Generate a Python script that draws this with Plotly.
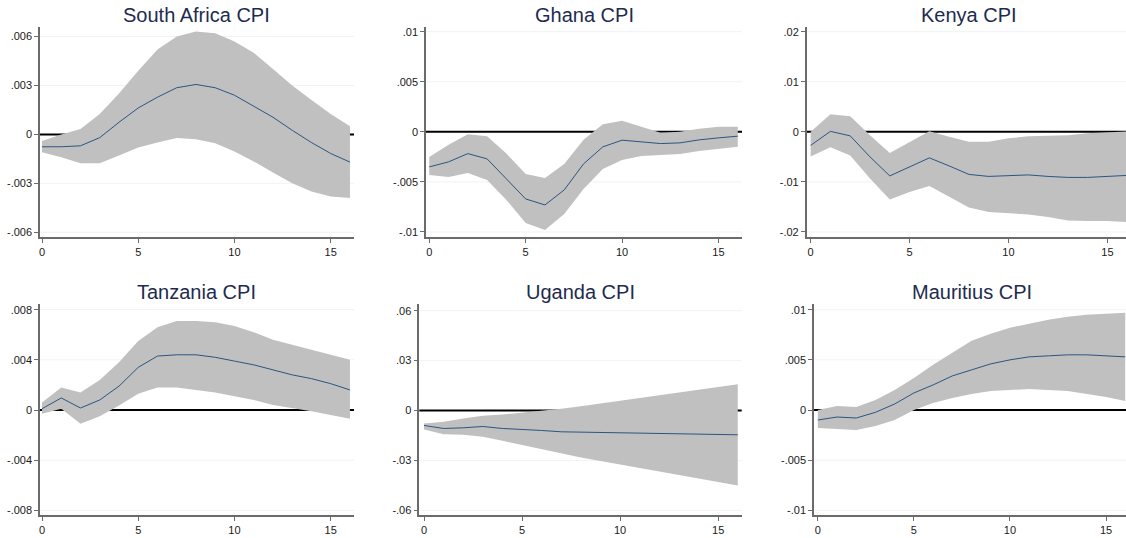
import plotly.graph_objects as go

W, H = 1126, 538
steps = list(range(17))

titles = ["South Africa CPI", "Ghana CPI", "Kenya CPI", "Tanzania CPI", "Uganda CPI", "Mauritius CPI"]

sa_irf = [-0.00076, -0.00076, -0.0007, -0.0002, 0.00074, 0.00162, 0.00228, 0.00286, 0.00306, 0.00286, 0.0024, 0.00175, 0.00105, 0.00025, -0.0005, -0.00117, -0.0017]
sa_hi = [-0.0004, 0.0, 0.00033, 0.00125, 0.0025, 0.0039, 0.0052, 0.006, 0.0063, 0.0062, 0.0057, 0.005, 0.004, 0.003, 0.0021, 0.00125, 0.0005]
sa_lo = [-0.0011, -0.0014, -0.00177, -0.00177, -0.0013, -0.0008, -0.0005, -0.00022, -0.0003, -0.00055, -0.00105, -0.00166, -0.00234, -0.003, -0.0035, -0.0038, -0.0039]

gh_irf = [-0.0035, -0.003, -0.00217, -0.0027, -0.0047, -0.0067, -0.0073, -0.0058, -0.0032, -0.0015, -0.00083, -0.001, -0.00117, -0.0011, -0.0008, -0.0006, -0.00043]
gh_hi = [-0.0025, -0.0013, -0.00023, -0.00043, -0.00217, -0.0042, -0.0046, -0.0032, -0.0008, 0.00077, 0.0011, 0.0005, -0.0001, 0.0, 0.0003, 0.0005, 0.0005]
gh_lo = [-0.0043, -0.0045, -0.0041, -0.0048, -0.0068, -0.0091, -0.0098, -0.0082, -0.0057, -0.0037, -0.0028, -0.0024, -0.0023, -0.0022, -0.0019, -0.0017, -0.0015]

ke_irf = [-0.0027, 0.0001, -0.0008, -0.005, -0.0088, -0.007, -0.0052, -0.0068, -0.0085, -0.0089, -0.0087, -0.0086, -0.0089, -0.0091, -0.0091, -0.0089, -0.0087]
ke_hi = [0.0, 0.0035, 0.0031, -0.0007, -0.0042, -0.002, 0.0001, -0.001, -0.002, -0.002, -0.0013, -0.0009, -0.0008, -0.0007, -0.0003, -0.0001, 0.0001]
ke_lo = [-0.0049, -0.0031, -0.0047, -0.0093, -0.0135, -0.012, -0.0108, -0.013, -0.0151, -0.016, -0.0162, -0.0165, -0.017, -0.0177, -0.0178, -0.0178, -0.018]

tz_irf = [0.0001, 0.00096, 0.00016, 0.0008, 0.0019, 0.0034, 0.0043, 0.0044, 0.0044, 0.0042, 0.0039, 0.0036, 0.0032, 0.0028, 0.0025, 0.0021, 0.0016]
tz_hi = [0.0006, 0.0018, 0.0014, 0.0024, 0.0038, 0.0055, 0.0066, 0.0071, 0.0071, 0.007, 0.0067, 0.0062, 0.0056, 0.0052, 0.0048, 0.0044, 0.004]
tz_lo = [-0.0003, 0.0001, -0.0011, -0.0005, 0.00035, 0.0013, 0.0018, 0.0018, 0.0016, 0.0014, 0.0011, 0.0008, 0.0004, 0.00016, -0.0001, -0.0004, -0.0007]

ug_irf = [-0.009, -0.0108, -0.0104, -0.0096, -0.0108, -0.0112, -0.012, -0.0128, -0.013, -0.0134, -0.0134, -0.0138, -0.0142, -0.0142, -0.0144, -0.0144, -0.0146]
ug_hi = [-0.0078, -0.0068, -0.0048, -0.0032, -0.0024, -0.0014, -0.0004, 0.001, 0.0026, 0.0042, 0.0058, 0.0074, 0.009, 0.0106, 0.0122, 0.0142, 0.0158]
ug_lo = [-0.0114, -0.0142, -0.0146, -0.0158, -0.0182, -0.0208, -0.0234, -0.0258, -0.0282, -0.0304, -0.0326, -0.0348, -0.0368, -0.0388, -0.0408, -0.0428, -0.045]

mu_irf = [-0.001, -0.0007, -0.0008, -0.00023, 0.0006, 0.0017, 0.0025, 0.0034, 0.004, 0.0046, 0.005, 0.0053, 0.0054, 0.0055, 0.0055, 0.0054, 0.0053]
mu_hi = [0.0, 0.0004, 0.0003, 0.001, 0.002, 0.0032, 0.0045, 0.0057, 0.0069, 0.0076, 0.0082, 0.0086, 0.009, 0.0093, 0.0095, 0.0096, 0.0097]
mu_lo = [-0.0018, -0.0019, -0.002, -0.0016, -0.001, 0.0, 0.0007, 0.0012, 0.0016, 0.0019, 0.002, 0.0021, 0.002, 0.0019, 0.0016, 0.0013, 0.0009]

sa_ticks = [-0.006, -0.003, 0, 0.003, 0.006]
sa_labels = ["-.006", "-.003", "0", ".003", ".006"]
gh_ticks = [-0.01, -0.005, 0, 0.005, 0.01]
gh_labels = ["-.01", "-.005", "0", ".005", ".01"]
ke_ticks = [-0.02, -0.01, 0, 0.01, 0.02]
ke_labels = ["-.02", "-.01", "0", ".01", ".02"]
tz_ticks = [-0.008, -0.004, 0, 0.004, 0.008]
tz_labels = ["-.008", "-.004", "0", ".004", ".008"]
ug_ticks = [-0.06, -0.03, 0, 0.03, 0.06]
ug_labels = ["-.06", "-.03", "0", ".03", ".06"]
mu_ticks = [-0.01, -0.005, 0, 0.005, 0.01]
mu_labels = ["-.01", "-.005", "0", ".005", ".01"]
x_ticks = [0, 5, 10, 15]

panels = [
    (sa_irf, sa_hi, sa_lo, sa_ticks, sa_labels),
    (gh_irf, gh_hi, gh_lo, gh_ticks, gh_labels),
    (ke_irf, ke_hi, ke_lo, ke_ticks, ke_labels),
    (tz_irf, tz_hi, tz_lo, tz_ticks, tz_labels),
    (ug_irf, ug_hi, ug_lo, ug_ticks, ug_labels),
    (mu_irf, mu_hi, mu_lo, mu_ticks, mu_labels),
]

# layout geometry in pixels: (left, right, top, bottom), x-range, y-range
geom = [
    ((40, 354, 26.7, 237), (-0.104, 16.21), (-0.00629, 0.0066)),
    ((426, 742, 26.7, 237), (-0.17, 16.22), (-0.0105, 0.0105)),
    ((806.7, 1126, 26.7, 237), (-0.2, 15.94), (-0.021, 0.021)),
    ((40, 354, 304, 515), (-0.104, 16.21), (-0.00837, 0.00845)),
    ((419.3, 741.7, 304, 515), (-0.24, 16.2), (-0.0628, 0.064)),
    ((814, 1126, 304, 515), (-0.2, 16.04), (-0.01047, 0.01057)),
]
title_centers = [196, 584, 969, 196, 580, 972]

band_color = "#c0c0c0"
line_color = "#2b5581"
axis_color = "#6b6b6b"
grid_color = "#eef3f5"
tick_font = dict(family="Liberation Sans, Arial, sans-serif", size=11, color="#1a1a1a")

fig = go.Figure()
layout = dict(width=W, height=H, margin=dict(l=0, r=0, t=0, b=0, pad=0),
              paper_bgcolor="white", plot_bgcolor="white", showlegend=False)
shapes = []
annotations = []

for i, ((irf, hi, lo, yt, yl), (px, xr, yr)) in enumerate(zip(panels, geom)):
    n = i + 1
    xa = "x" if n == 1 else f"x{n}"
    ya = "y" if n == 1 else f"y{n}"
    xkey = "xaxis" if n == 1 else f"xaxis{n}"
    ykey = "yaxis" if n == 1 else f"yaxis{n}"
    l, r, t, b = px
    layout[xkey] = dict(domain=[l / W, r / W], range=list(xr), anchor=ya,
                        tickvals=x_ticks, ticktext=[str(v) for v in x_ticks],
                        showgrid=False, zeroline=False, showline=True,
                        linecolor=axis_color, linewidth=1.5, ticks="outside",
                        ticklen=4, tickcolor=axis_color, tickwidth=1,
                        tickfont=tick_font, automargin=False)
    layout[ykey] = dict(domain=[1 - b / H, 1 - t / H], range=list(yr), anchor=xa,
                        tickvals=yt, ticktext=yl, showgrid=False, zeroline=False,
                        showline=True, linecolor=axis_color, linewidth=1.5,
                        ticks="outside", ticklen=4, tickcolor=axis_color, tickwidth=1,
                        tickfont=tick_font, automargin=False)
    # light gridlines at non-zero ticks
    for v in yt:
        if v != 0:
            shapes.append(dict(type="line", xref=f"{xa} domain", yref=ya, x0=0, x1=1,
                               y0=v, y1=v, line=dict(color=grid_color, width=1),
                               layer="below"))
    # zero reference line, beneath the band
    shapes.append(dict(type="line", xref=f"{xa} domain", yref=ya, x0=0, x1=1, y0=0, y1=0,
                       line=dict(color="black", width=2), layer="below"))
    fig.add_trace(go.Scatter(x=steps, y=hi, mode="lines", line=dict(width=0, color=band_color),
                             xaxis=xa, yaxis=ya, hoverinfo="skip"))
    fig.add_trace(go.Scatter(x=steps, y=lo, mode="lines", line=dict(width=0, color=band_color),
                             fill="tonexty", fillcolor=band_color, xaxis=xa, yaxis=ya,
                             hoverinfo="skip"))
    fig.add_trace(go.Scatter(x=steps, y=irf, mode="lines", line=dict(width=1, color=line_color),
                             xaxis=xa, yaxis=ya))
    annotations.append(dict(text=titles[i], xref="paper", yref="paper",
                            x=title_centers[i] / W,
                            y=1 - (t - 11.5) / H, xanchor="center", yanchor="middle",
                            showarrow=False,
                            font=dict(family="Liberation Sans, Arial, sans-serif", size=20,
                                      color="#1e2b4f")))

layout["shapes"] = shapes
layout["annotations"] = annotations
fig.update_layout(**layout)
fig.write_html("out.html", config={"displayModeBar": False},
               post_script="document.body.style.margin='0px';document.body.style.padding='0px';"
                           "document.documentElement.style.margin='0px';")
